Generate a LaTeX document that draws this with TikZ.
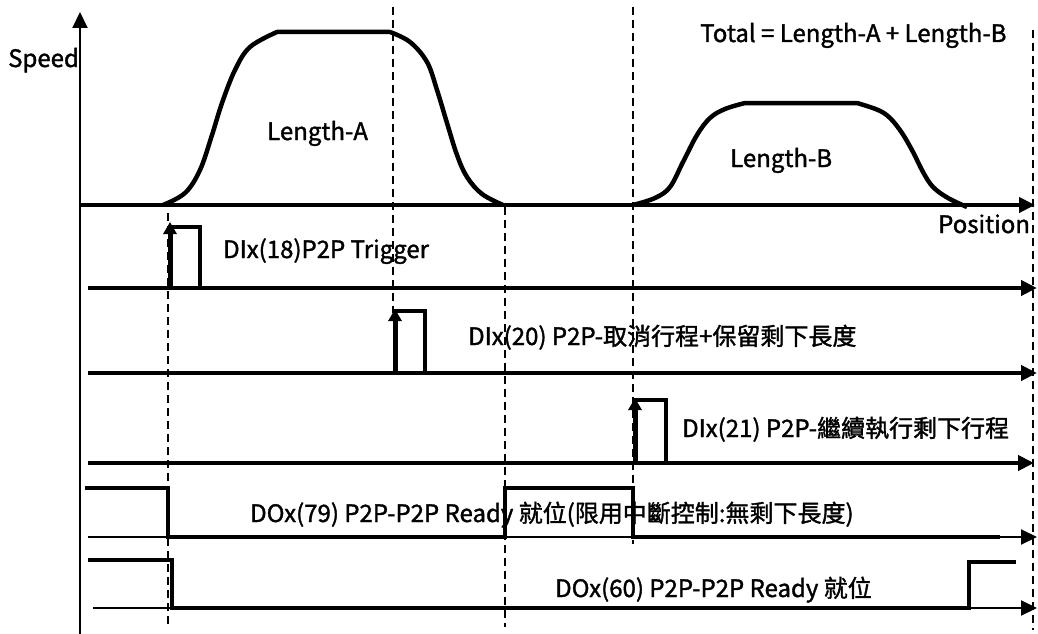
\documentclass[tikz,border=0pt]{standalone}
\usepackage{fontspec}
\setmainfont{Noto Sans CJK TC}[BoldFont=Noto Sans CJK TC,BoldFeatures={FakeBold=1.4}]
\usetikzlibrary{arrows.meta}
\tikzset{
  trace/.style={line width=4.5pt,line join=miter},
  axisline/.style={line width=4pt,-{Triangle[length=16pt,width=15pt]}},
  thinaxis/.style={line width=2pt,-{Triangle[length=16pt,width=15pt]}},
  guide/.style={line width=1.5pt,dash pattern=on 8pt off 5pt},
  edgearrow/.style={line width=5pt,-{Triangle[length=12pt,width=13pt]}},
  lbl/.style={font=\fontsize{24}{28}\selectfont\bfseries,inner sep=0pt,anchor=base west}
}
\begin{document}
\begin{tikzpicture}[x=1pt,y=-1pt]
\useasboundingbox[fill=white] (0,0) rectangle (1038,634);
% dashed time markers
\draw[guide] (168,213) -- (168,627);
\draw[guide] (393,7) -- (393,313);
\draw[guide] (505,207) -- (505,627);
\draw[guide] (633,7) -- (633,544);
\draw[guide] (1033,30) -- (1033,630);
% speed / position axes
\draw[thinaxis] (80,634) -- (80,12);
\draw[axisline] (80,205) -- (1035,205);
\node[lbl] (speed) at (8,67) {Speed};
\node[lbl] (position) at (938,233) {Position};
% speed profiles
\draw[trace,line join=round] plot[smooth,tension=0.6] coordinates
  {(163,205) (185,193) (200,170) (212,135) (222,103) (235,70) (250,47) (277,32)}
  -- (390,32)
  plot[smooth,tension=0.6] coordinates
  {(390,32) (410,42) (427,62) (437,90) (447,123) (457,155) (467,177) (482,194) (503,205)};
\draw[trace,line join=round] plot[smooth,tension=0.6] coordinates
  {(633,205) (655,198) (670,187) (683,162) (697,135) (710,118) (725,109) (745,103)}
  -- (857,103)
  plot[smooth,tension=0.6] coordinates
  {(857,103) (878,110) (890,118) (902,133) (913,152) (923,172) (933,187) (948,198) (967,207)};
\node[lbl] (lenA) at (267,140) {Length-A};
\node[lbl] (lenB) at (730,167) {Length-B};
\node[lbl] (total) at (700,42) {Total = Length-A + Length-B};
% DIx(18) trigger
\draw[axisline] (88,288) -- (1037,288);
\draw[trace] (170,288) -- (170,227) -- (200,227) -- (200,288);
\draw[edgearrow] (170,288) -- (170,222);
\node[lbl] (trig) at (223,258) {DIx(18)P2P Trigger};
% DIx(20) cancel
\draw[axisline] (88,373) -- (1037,373);
\draw[trace] (395,373) -- (395,311) -- (425,311) -- (425,373);
\draw[edgearrow] (395,373) -- (395,309);
\node[lbl] (cancel) at (468,345) {DIx(20) P2P-取消行程+保留剩下長度};
% DIx(21) resume
\draw[axisline] (88,463) -- (1034,463);
\draw[trace] (635,463) -- (635,400) -- (666,400) -- (666,463);
\draw[edgearrow] (635,463) -- (635,398);
\node[lbl] (resume) at (682,437) {DIx(21) P2P-繼續執行剩下行程};
% DOx(79) ready (interrupt)
\draw[thinaxis] (88,537) -- (1037,537);
\draw[trace] (85,488) -- (168,488) -- (168,537) -- (505,537) -- (505,488)
  -- (633,488) -- (633,537) -- (1000,537);
\node[lbl] (rdy79) at (250,522) {DOx(79) P2P-P2P Ready 就位(限用中斷控制:無剩下長度)};
% DOx(60) ready
\draw[thinaxis] (93,608) -- (1037,608);
\draw[trace] (88,560) -- (172,560) -- (172,608) -- (969,608) -- (969,562) -- (1016,562);
\node[lbl] (rdy60) at (555,597) {DOx(60) P2P-P2P Ready 就位};
\end{tikzpicture}
\end{document}
